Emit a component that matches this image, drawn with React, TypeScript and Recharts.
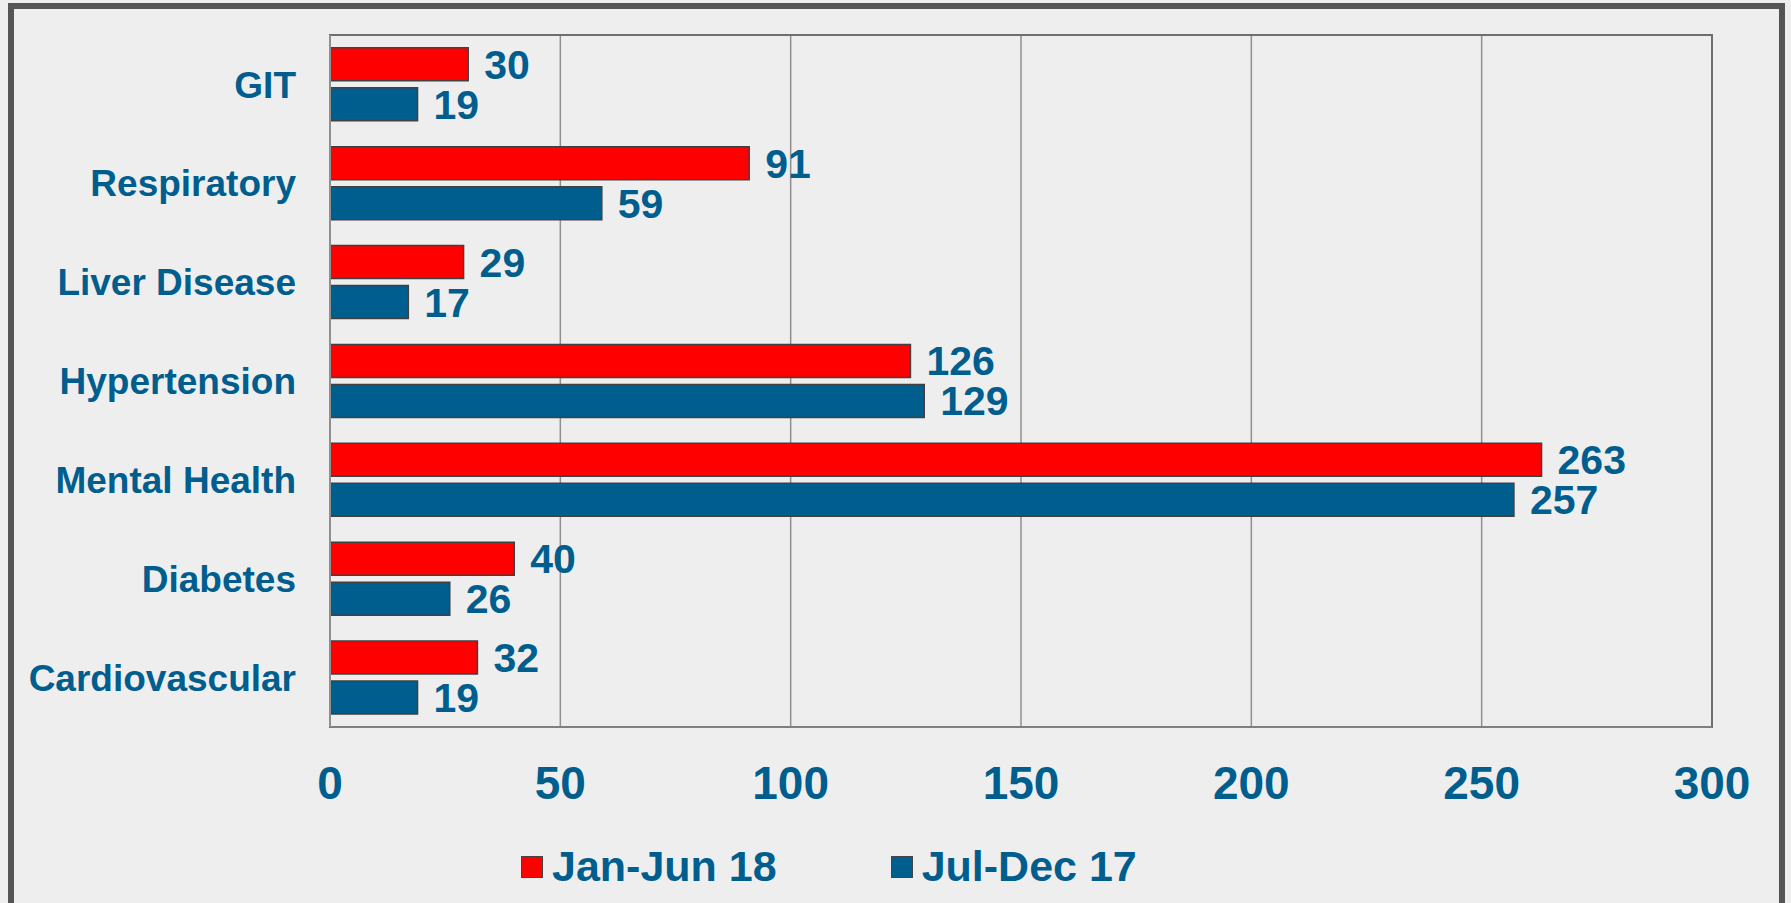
import React from 'react';
import { BarChart, Bar, XAxis, YAxis, CartesianGrid, LabelList, Legend, ReferenceArea } from 'recharts';

const categories = ['GIT', 'Respiratory', 'Liver Disease', 'Hypertension', 'Mental Health', 'Diabetes', 'Cardiovascular'];
const janJun18 = [30, 91, 29, 126, 263, 40, 32];
const julDec17 = [19, 59, 17, 129, 257, 26, 19];
const xTicks = [0, 50, 100, 150, 200, 250, 300];
const seriesNames = ['Jan-Jun 18', 'Jul-Dec 17'];

const RED = '#ff0000';
const BLUE = '#005e8f';
const TEXT = '#005e8f';
const FONT = '"Liberation Sans", Arial, sans-serif';

const data = categories.map((c, i) => ({ category: c, janJun18: janJun18[i], julDec17: julDec17[i] }));

const renderLegend = (props: any) => {
  const payload = props.payload || [];
  return (
    <div style={{ display: 'flex', alignItems: 'center', fontFamily: FONT }}>
      {payload.map((p: any, i: number) => (
        <div key={i} style={{ display: 'flex', alignItems: 'center', marginRight: i === 0 ? 114 : 0 }}>
          <div style={{ width: 22, height: 22, background: p.color, border: '1.5px solid #444', boxSizing: 'border-box', marginRight: 9 }} />
          <span style={{ fontSize: 43, lineHeight: 1, fontWeight: 700, color: TEXT }}>{p.value}</span>
        </div>
      ))}
    </div>
  );
};

export default function App() {
  return (
    <div style={{ position: 'fixed', left: 0, top: 0, width: 1791, height: 903, background: '#eeeeee', overflow: 'hidden' }}>
      <div style={{ position: 'absolute', left: 8, top: 3, width: 1777, height: 1000, border: '6px solid #555555', boxSizing: 'border-box' }} />
      <div style={{ position: 'absolute', left: 0, top: 0 }}>
        <BarChart
          width={1791}
          height={903}
          data={data}
          layout="vertical"
          margin={{ top: 35, right: 79, bottom: 116, left: 0 }}
          barCategoryGap="13%"
          barGap={7}
        >
          <CartesianGrid horizontal={false} vertical={true} stroke="#8f8f8f" strokeWidth={1.5} />
          <XAxis
            type="number"
            domain={[0, 300]}
            ticks={xTicks}
            height={60}
            axisLine={{ stroke: '#7f7f7f', strokeWidth: 2 }}
            tickLine={false}
            tickSize={6}
            tickMargin={33}
            tick={{ fill: TEXT, fontSize: 46, fontWeight: 700, fontFamily: FONT }}
            interval={0}
          />
          <YAxis
            type="category"
            dataKey="category"
            width={330}
            axisLine={{ stroke: '#8f8f8f', strokeWidth: 2 }}
            tickLine={false}
            tickSize={6}
            tickMargin={28}
            tick={{ fill: TEXT, fontSize: 37, fontWeight: 700, fontFamily: FONT }}
            interval={0}
          />
          <ReferenceArea x1={0} x2={300} fill="none" stroke="#6f6f6f" strokeWidth={2} ifOverflow="visible" />
          <Legend
            verticalAlign="middle"
            layout="horizontal"
            content={renderLegend}
            wrapperStyle={{ left: 521, top: 845, width: 800, height: 43 }}
          />
          <Bar dataKey="janJun18" name={seriesNames[0]} fill={RED} stroke="#404040" strokeWidth={1.5} isAnimationActive={false}>
            <LabelList dataKey="janJun18" position="right" offset={16} fill={TEXT} fontSize={41} fontWeight={700} fontFamily={FONT} />
          </Bar>
          <Bar dataKey="julDec17" name={seriesNames[1]} fill={BLUE} stroke="#404040" strokeWidth={1.5} isAnimationActive={false}>
            <LabelList dataKey="julDec17" position="right" offset={16} fill={TEXT} fontSize={41} fontWeight={700} fontFamily={FONT} />
          </Bar>
        </BarChart>
      </div>
    </div>
  );
}
